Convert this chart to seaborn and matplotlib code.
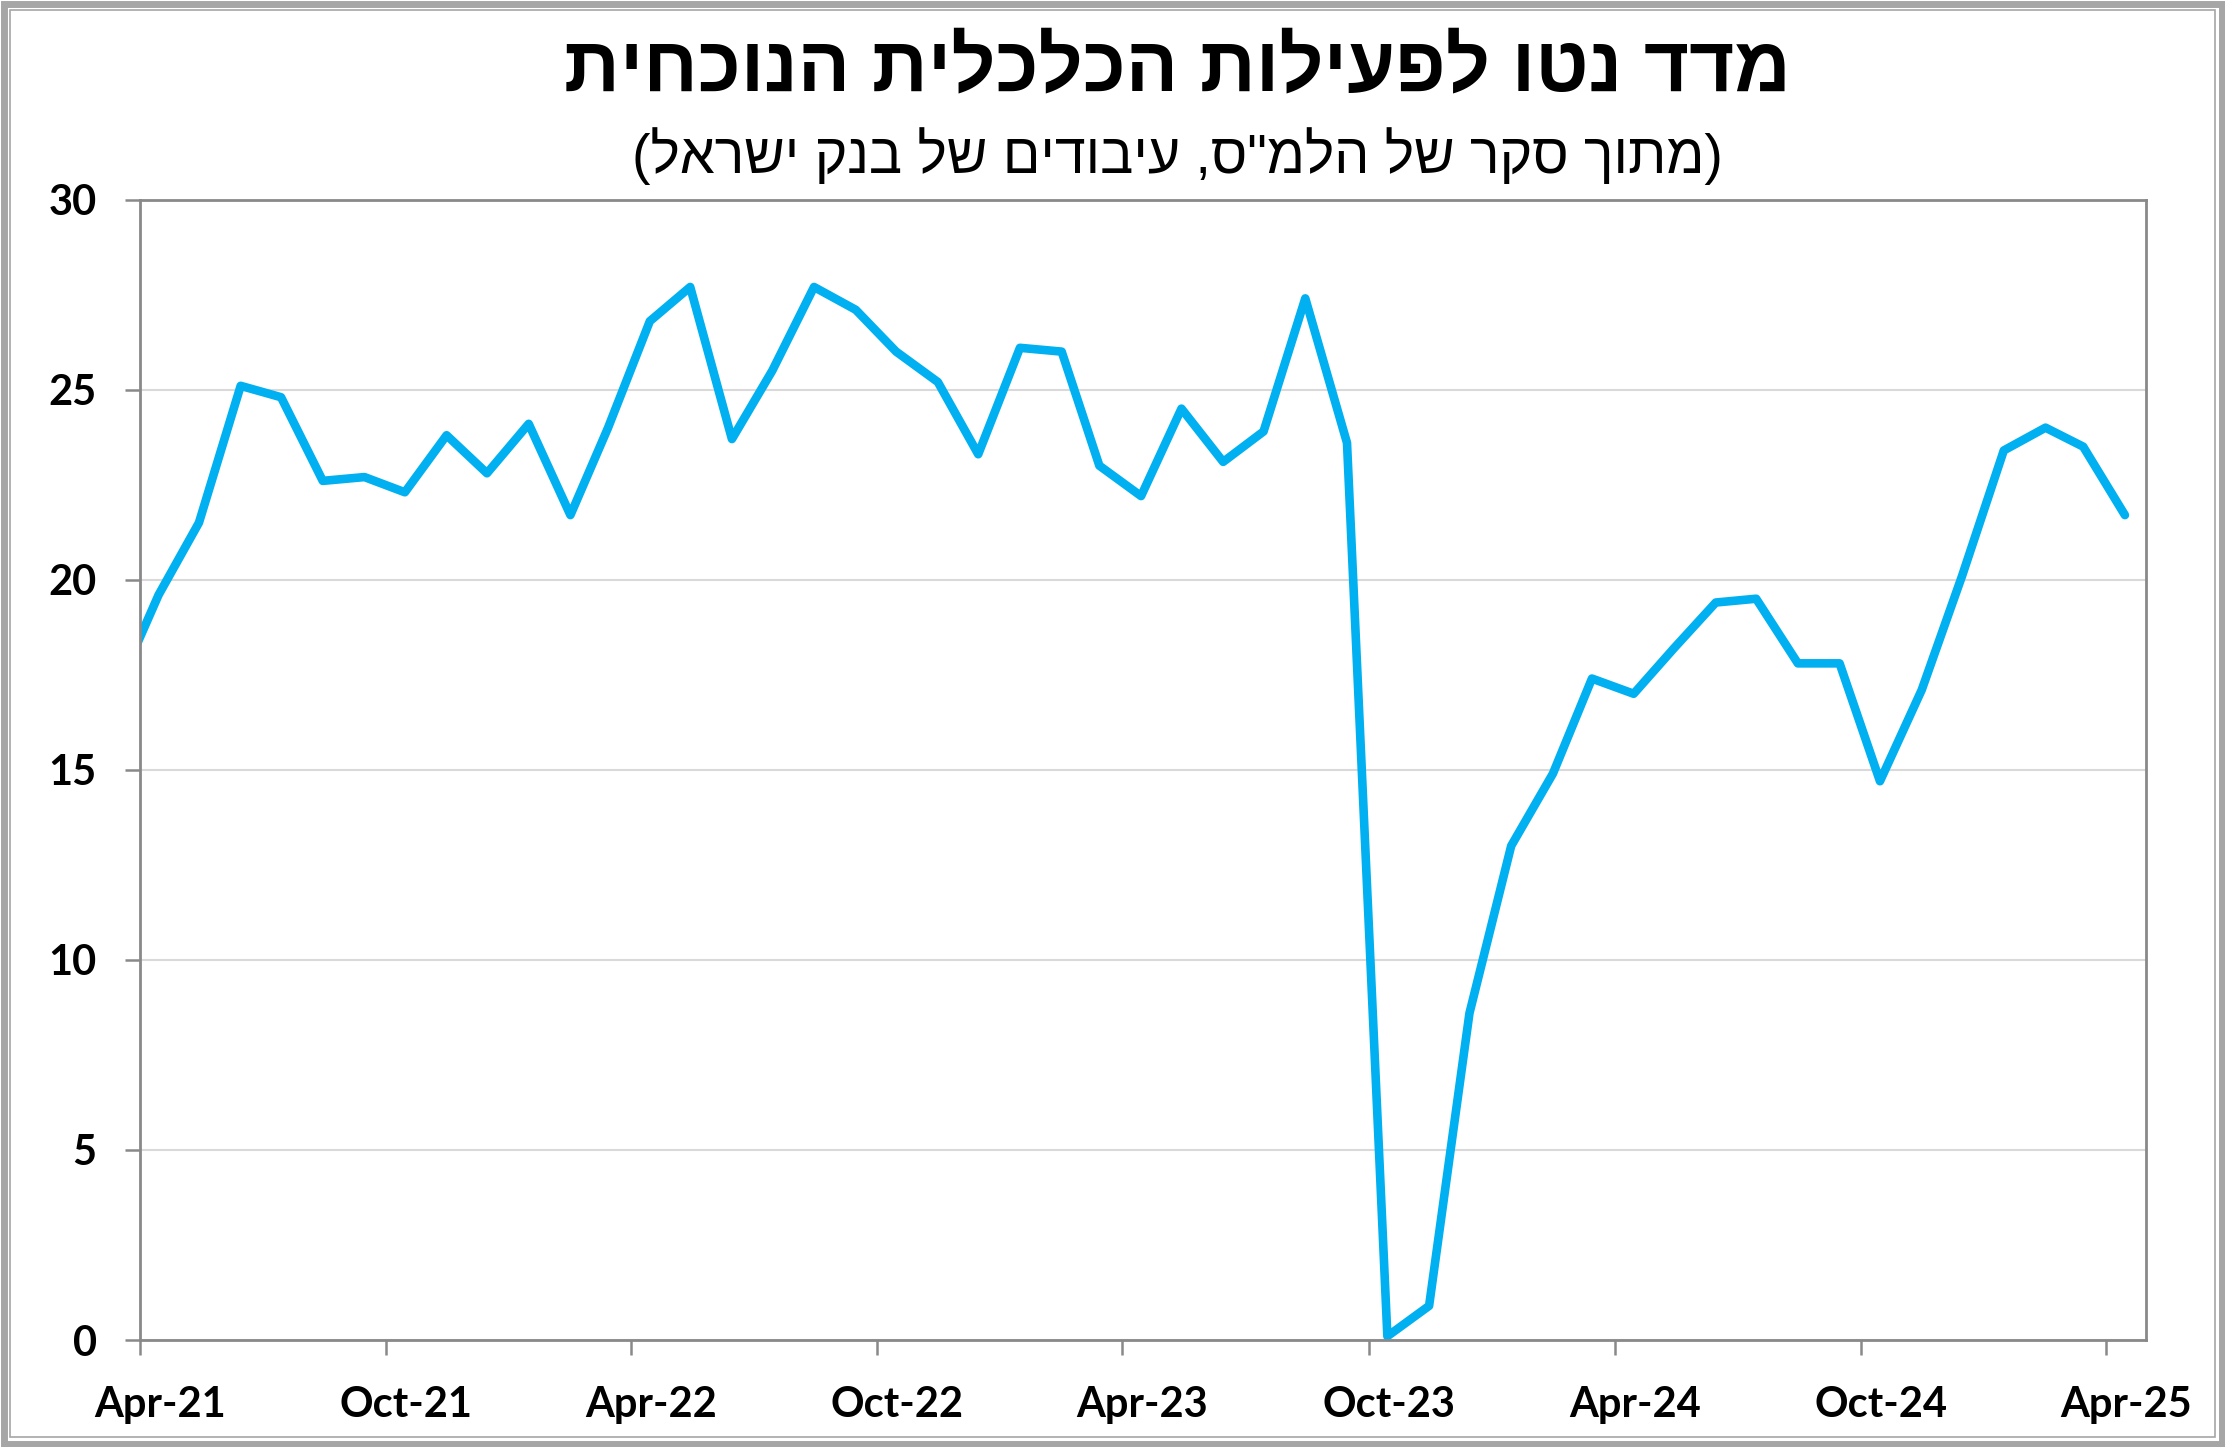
import pandas as pd
import matplotlib
matplotlib.use("Agg")
import matplotlib.pyplot as plt
import matplotlib.transforms as mtransforms
from matplotlib.patches import Rectangle
import seaborn as sns

# net balance, monthly survey (points sit mid-month), Mar-21 .. Apr-25
start_month = "2021-03-01"
end_month = "2025-04-01"
values = [17.1,
          19.6, 21.5, 25.1, 24.8, 22.6, 22.7, 22.3, 23.8, 22.8,
          24.1, 21.7, 24.0, 26.8, 27.7, 23.7, 25.5, 27.7, 27.1, 26.0, 25.2, 23.3,
          26.1, 26.0, 23.0, 22.2, 24.5, 23.1, 23.9, 27.4, 23.6, 0.1, 0.9, 8.6,
          13.0, 14.9, 17.4, 17.0, 18.2, 19.4, 19.5, 17.8, 17.8, 14.7, 17.1, 20.1,
          23.4, 24.0, 23.5, 21.7]
y_ticks = [0, 5, 10, 15, 20, 25, 30]

title = "מדד נטו לפעילות הכלכלית הנוכחית"
subtitle = "(מתוך סקר של הלמ\"ס, עיבודים של בנק ישראל)"

dates = pd.date_range(start_month, end_month, freq="MS") + pd.Timedelta(days=14)
df = pd.DataFrame({"date": dates, "value": values})
x_ticks = pd.date_range("2021-04-01", "2025-04-01", freq="6MS")
x_labels = [d.strftime("%b-%y") for d in x_ticks]


def visual(s):
    # matplotlib has no bidi: reverse the Hebrew and mirror the brackets
    swap = {"(": ")", ")": "("}
    return "".join(swap.get(c, c) for c in s[::-1])


sns.set_style("white")
heb_fonts = ["Liberation Sans Narrow", "Liberation Sans", "DejaVu Sans"]
plt.rcParams["font.family"] = ["Lato", "DejaVu Sans"]
plt.rcParams["font.weight"] = "bold"
plt.rcParams["text.color"] = "black"
plt.rcParams["xtick.color"] = "black"
plt.rcParams["ytick.color"] = "black"
plt.rcParams["xtick.labelsize"] = 30
plt.rcParams["ytick.labelsize"] = 30

fig = plt.figure(figsize=(22.25, 14.47), dpi=100)
ax = fig.add_axes([0.0628, 0.0739, 0.9019, 0.7882])

sns.lineplot(data=df, x="date", y="value", ax=ax, color="#00B0F0",
             linewidth=6.2, solid_capstyle="round", solid_joinstyle="round")

ax.set_xlim(pd.Timestamp("2021-04-01"), pd.Timestamp("2025-05-01"))
ax.set_ylim(0, 30)
ax.set_yticks(y_ticks, labels=[str(v) for v in y_ticks])
ax.set_xticks(x_ticks, labels=x_labels)
ax.set_xlabel("")
ax.set_ylabel("")

ax.grid(axis="y", color="#D9D9D9", linewidth=1.5)
ax.set_axisbelow(True)
for sp in ax.spines.values():
    sp.set_visible(True)
    sp.set_color("#898989")
    sp.set_linewidth(2)

ax.tick_params(axis="both", which="major", length=11, width=1.8, color="#898989",
               labelcolor="black", direction="out")
ax.tick_params(axis="y", pad=20, left=True)
ax.tick_params(axis="x", pad=22, bottom=True)

fig.text(0.529, 1 - 70 / 1447, visual(title), ha="center", va="center",
         fontsize=56, fontweight="bold", family=heb_fonts, color="black")
fig.text(0.529, 1 - 156 / 1447, visual(subtitle), ha="center", va="center",
         fontsize=40, fontweight="normal", family=heb_fonts, color="black")

# chart frame
fig.patches.append(Rectangle((3.5 / 2225, 3.5 / 1447), 1 - 7 / 2225, 1 - 7 / 1447,
                             transform=fig.transFigure, fill=False,
                             edgecolor="#A6A6A6", linewidth=5))
fig.patches.append(Rectangle((10 / 2225, 10 / 1447), 1 - 20 / 2225, 1 - 20 / 1447,
                             transform=fig.transFigure, fill=False,
                             edgecolor="#A6A6A6", linewidth=1.2))

fig.canvas.draw()
for lab in ax.get_yticklabels():
    lab.set_fontweight("bold")
    lab.set_fontsize(30)
# Excel-style: date labels sit a little right of their ticks
shift = mtransforms.ScaledTranslation(0.2, 0, fig.dpi_scale_trans)
for lab in ax.get_xticklabels():
    lab.set_fontweight("bold")
    lab.set_transform(lab.get_transform() + shift)

fig.savefig("out.png", dpi=100)
